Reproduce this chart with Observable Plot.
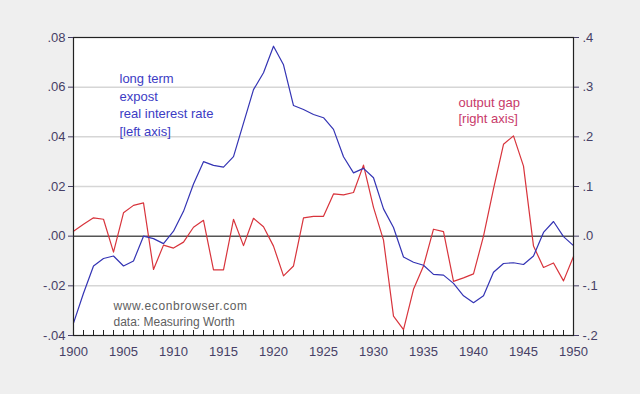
<!DOCTYPE html>
<html>
<head>
<meta charset="utf-8">
<script src="https://cdn.jsdelivr.net/npm/d3@7"></script>
<script src="https://cdn.jsdelivr.net/npm/@observablehq/plot@0.6"></script>
<style>
  html, body { margin: 0; padding: 0; background: #efefef; }
  #chart { width: 640px; height: 394px; }
</style>
</head>
<body>
<div id="chart"></div>
<script>
// ---- data ----
const years = d3.range(1900, 1951);
const realRate = [
  -0.035, -0.023, -0.012, -0.009, -0.008, -0.012, -0.010, 0.000, -0.001, -0.003,
   0.002,  0.010,  0.021,  0.030,  0.0285, 0.0278, 0.032, 0.0455, 0.059, 0.0658,
   0.0765, 0.069, 0.0526, 0.051, 0.049, 0.0477, 0.043, 0.032, 0.0255, 0.0273,
   0.0235, 0.011, 0.0035, -0.0084, -0.0105, -0.0117, -0.0154, -0.0157, -0.019, -0.024,
  -0.0268, -0.024, -0.0145, -0.011, -0.0107, -0.0114, -0.008, 0.0015, 0.0059, -0.0002,
  -0.0038
];
const outputGap = [
   0.010, 0.024, 0.037, 0.034, -0.032, 0.047, 0.062, 0.067, -0.067, -0.018,
  -0.024, -0.012, 0.018, 0.032, -0.068, -0.068, 0.034, -0.019, 0.036, 0.019,
  -0.020, -0.080, -0.060, 0.037, 0.040, 0.040, 0.085, 0.083, 0.088, 0.143,
   0.058, -0.008, -0.161, -0.188, -0.107, -0.060, 0.014, 0.009, -0.091, -0.084,
  -0.076, 0.000, 0.095, 0.185, 0.202, 0.141, -0.020, -0.063, -0.054, -0.090,
  -0.041
];
const leftTicks = [-0.04, -0.02, 0, 0.02, 0.04, 0.06, 0.08];
const leftLabels = ["-.04", "-.02", ".00", ".02", ".04", ".06", ".08"];
const rightTicks = [-0.2, -0.1, 0, 0.1, 0.2, 0.3, 0.4];
const rightLabels = ["-.2", "-.1", ".0", ".1", ".2", ".3", ".4"];
const xTicks = [1900, 1905, 1910, 1915, 1920, 1925, 1930, 1935, 1940, 1945, 1950];
const blueLabel = "long term\nexpost\nreal interest rate\n[left axis]";
const redLabel = "output gap\n[right axis]";
const sourceLine1 = "www.econbrowser.com";
const sourceLine2 = "data: Measuring Worth";

// ---- build ----
const scaleR = 0.08 / 0.4; // right axis value -> left axis units
const blueData = years.map((yr, i) => ({year: yr, v: realRate[i]}));
const redData = years.map((yr, i) => ({year: yr, v: outputGap[i] * scaleR}));
const rightPos = rightTicks.map(v => v * scaleR);
const nearestLabel = (ticks, labels) => d => {
  let best = 0;
  ticks.forEach((t, i) => { if (Math.abs(t - d) < Math.abs(ticks[best] - d)) best = i; });
  return labels[best];
};

const labelColor = "#463f66";
const H = 394, mT = 37, mB = 59;
const innerH = H - mT - mB;

const chart = Plot.plot({
  width: 640,
  height: H,
  marginLeft: 73,
  marginRight: 67,
  marginTop: mT,
  marginBottom: mB,
  style: {background: "transparent", fontFamily: "'Liberation Sans', Arial, sans-serif", fontSize: "13px"},
  x: {domain: [1900, 1950], type: "linear"},
  y: {domain: [-0.04, 0.08]},
  marks: [
    Plot.frame({fill: "white", stroke: "none"}),
    Plot.ruleY(leftTicks.filter(d => d !== 0 && d !== -0.04 && d !== 0.08), {stroke: "#d6d6d6", strokeWidth: 1.5}),
    Plot.ruleY([0], {stroke: "#555", strokeWidth: 1.5}),
    Plot.line(redData, {x: "year", y: "v", stroke: "#d8343c", strokeWidth: 1.2}),
    Plot.line(blueData, {x: "year", y: "v", stroke: "#3434b4", strokeWidth: 1.2}),
    Plot.frame({stroke: "#222", strokeWidth: 1.2}),
    Plot.tickX(years, {x: d => d, insetTop: innerH - 5, stroke: "#222"}),
    Plot.axisX({ticks: xTicks, tickSize: 0, tickPadding: 11, tickFormat: d => String(d), color: labelColor, fontSize: 13, label: null}),
    Plot.axisY({anchor: "left", ticks: leftTicks, tickSize: 5, tickPadding: 3, tickFormat: nearestLabel(leftTicks, leftLabels), color: labelColor, fontSize: 13, label: null}),
    Plot.axisY({anchor: "right", ticks: rightPos, tickSize: 5, tickPadding: 4, tickFormat: nearestLabel(rightPos, rightLabels), color: labelColor, fontSize: 13, label: null}),
    Plot.text([blueLabel], {frameAnchor: "top-left", text: d => d, dx: 46, dy: 33, textAnchor: "start", lineAnchor: "top", lineHeight: 1.35, fill: "#3c3cc4", fontSize: 13}),
    Plot.text([redLabel], {frameAnchor: "top-left", text: d => d, dx: 385, dy: 58, textAnchor: "start", lineAnchor: "top", lineHeight: 1.25, fill: "#c83a6a", fontSize: 13}),
    Plot.text([sourceLine1], {frameAnchor: "top-left", text: d => d, dx: 40, dy: 264, textAnchor: "start", lineAnchor: "top", fill: "#606060", fontSize: 12, style: "letter-spacing:0.6px"}),
    Plot.text([sourceLine2], {frameAnchor: "top-left", text: d => d, dx: 40, dy: 280, textAnchor: "start", lineAnchor: "top", fill: "#606060", fontSize: 12})
  ]
});
// letter spacing for the first source line
chart.querySelectorAll("text").forEach(t => { if (t.textContent === sourceLine1) t.setAttribute("letter-spacing", "0.6"); });
document.getElementById("chart").appendChild(chart);
</script>
</body>
</html>
